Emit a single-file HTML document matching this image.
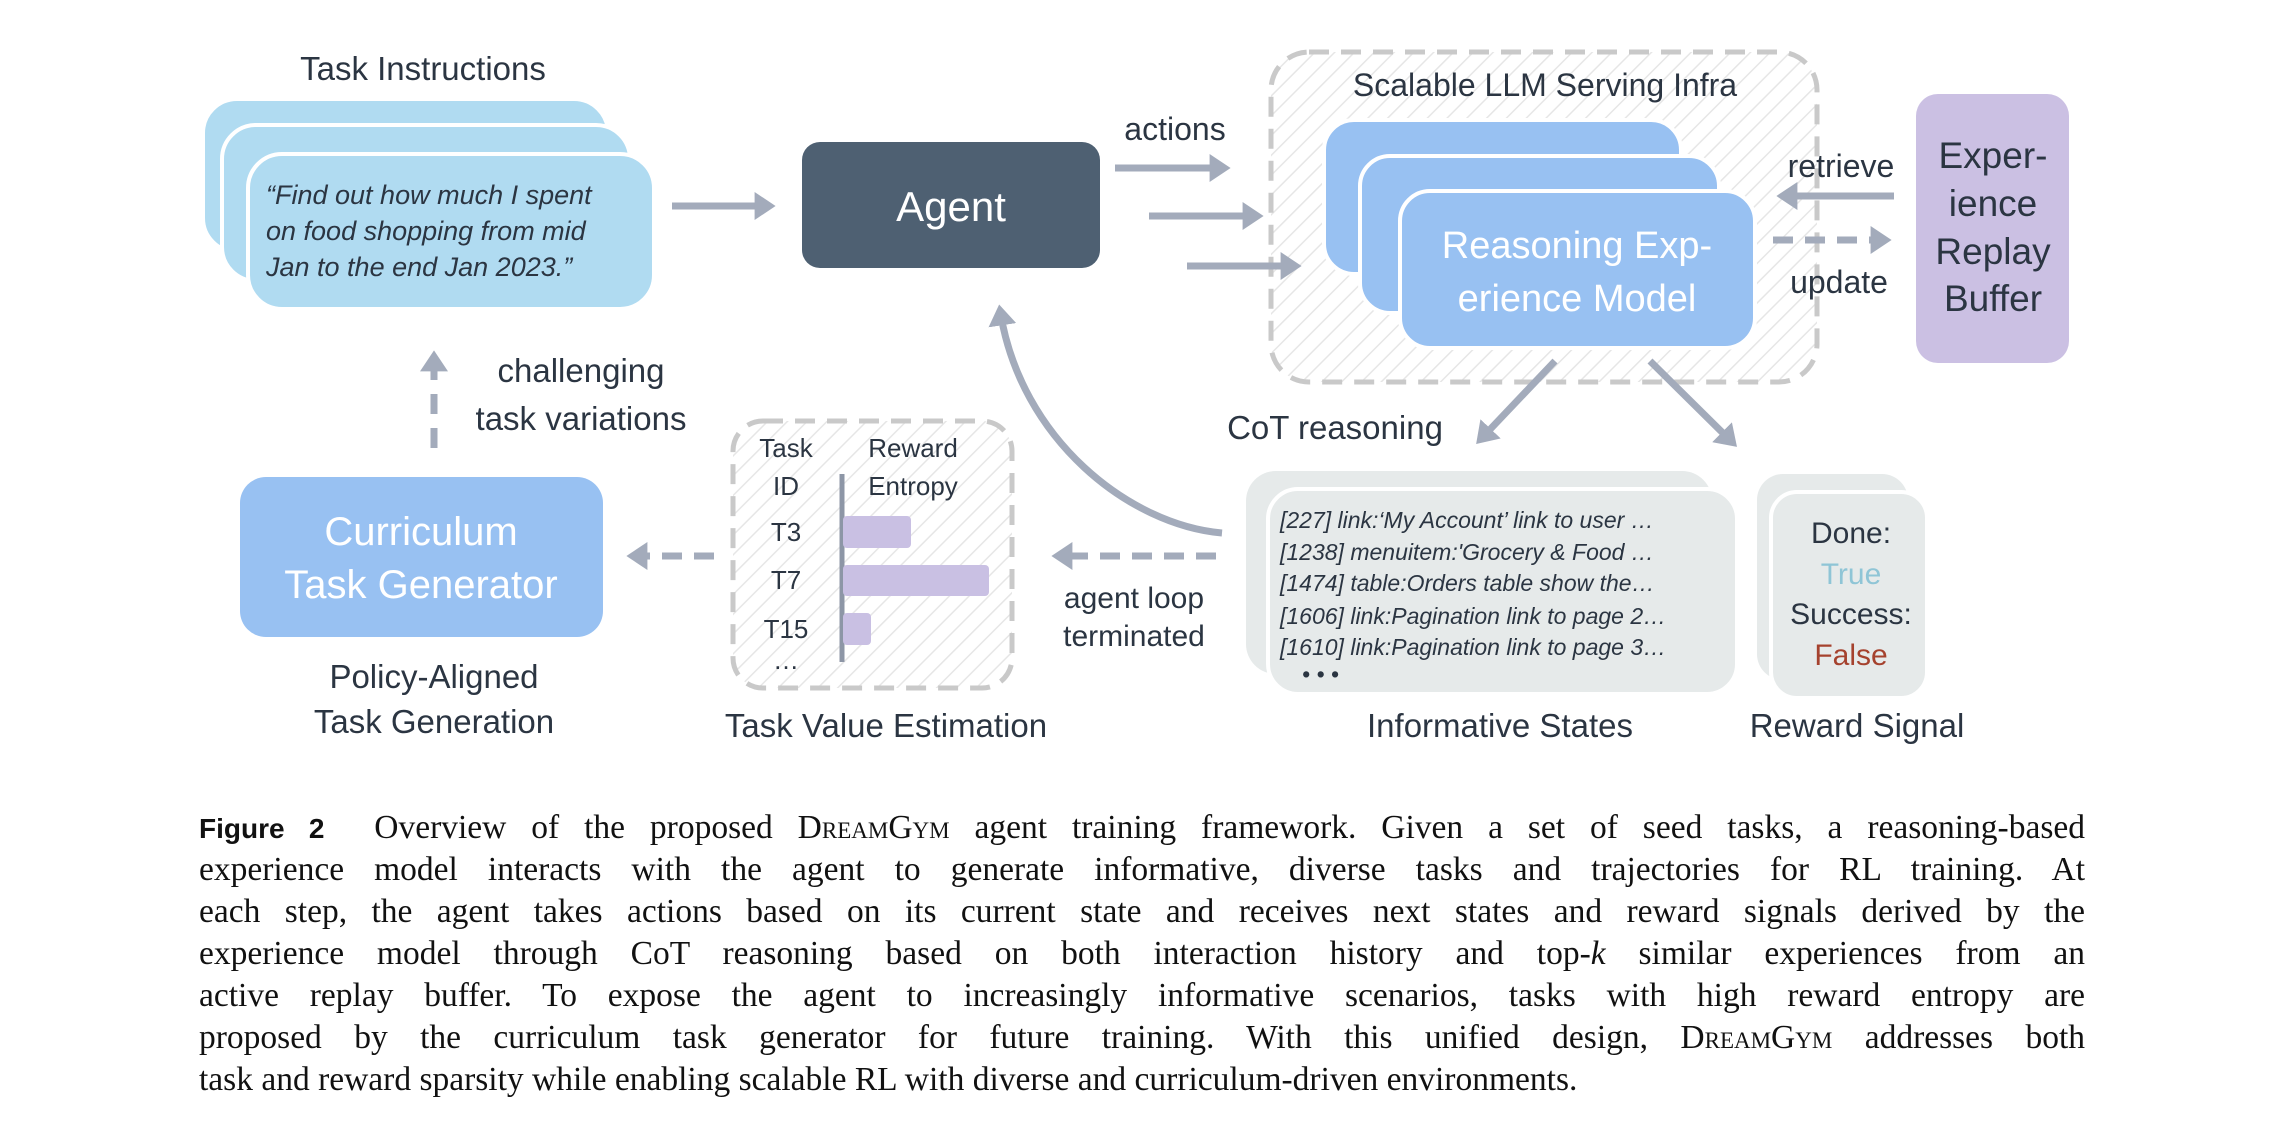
<!DOCTYPE html>
<html><head><meta charset="utf-8"><style>
html,body{margin:0;padding:0;background:#fff;}
body{width:2286px;height:1134px;position:relative;overflow:hidden;}
svg{position:absolute;left:0;top:0;}
.cap{position:absolute;left:199px;width:1886px;font-family:"Liberation Serif",serif;font-size:33.5px;color:#111;}
.cap div{height:42px;line-height:42px;text-align:justify;text-align-last:justify;white-space:nowrap;}
.cap div.last{text-align-last:left;}
.sc{font-variant:small-caps;}
</style></head><body>
<svg width="2286" height="1134" viewBox="0 0 2286 1134" font-family="Liberation Sans, sans-serif">
<defs>
<pattern id="h" width="14" height="14" patternUnits="userSpaceOnUse" patternTransform="rotate(45)">
<rect width="14" height="14" fill="#fff"/><line x1="0" y1="0" x2="0" y2="14" stroke="#e6e6e6" stroke-width="3"/></pattern>
<marker id="a" markerWidth="4" markerHeight="4" refX="2.2" refY="2" orient="auto" markerUnits="strokeWidth"><path d="M0,0 L3,2 L0,4 Z" fill="#a3abbb"/></marker>
</defs>
<g fill="#2b3542" font-size="33">
<text x="423" y="80" text-anchor="middle">Task Instructions</text>
</g>
<rect x="203" y="99" width="405" height="153" rx="34" fill="#b0dbf1" stroke="#fff" stroke-width="4"/>
<rect x="222" y="125" width="408" height="156" rx="34" fill="#b0dbf1" stroke="#fff" stroke-width="4"/>
<rect x="248" y="154" width="406" height="155" rx="34" fill="#b0dbf1" stroke="#fff" stroke-width="4"/>
<g fill="#2b3542" font-size="27" font-style="italic">
<text x="266" y="204">“Find out how much I spent</text>
<text x="266" y="240">on food shopping from mid</text>
<text x="266" y="276">Jan to the end Jan 2023.”</text>
</g>
<line x1="672" y1="206" x2="770" y2="206" stroke="#a3abbb" stroke-width="7" marker-end="url(#a)"/>
<rect x="802" y="142" width="298" height="126" rx="18" fill="#4e6072"/>
<text x="951" y="221" text-anchor="middle" fill="#fff" font-size="42">Agent</text>
<text x="1175" y="140" text-anchor="middle" fill="#2b3542" font-size="32">actions</text>
<rect x="1271" y="52" width="546" height="330" rx="38" fill="url(#h)" stroke="#c9c9c9" stroke-width="5" stroke-dasharray="20 12"/>
<text x="1545" y="96" text-anchor="middle" fill="#2b3542" font-size="32">Scalable LLM Serving Infra</text>
<rect x="1324" y="120" width="357" height="154" rx="30" fill="#98c1f2" stroke="#fff" stroke-width="4"/>
<rect x="1360" y="156" width="359" height="157" rx="30" fill="#98c1f2" stroke="#fff" stroke-width="4"/>
<rect x="1400" y="191" width="355" height="157" rx="30" fill="#98c1f2" stroke="#fff" stroke-width="4"/>
<g fill="#fff" font-size="38" text-anchor="middle">
<text x="1577" y="258">Reasoning Exp-</text>
<text x="1577" y="311">erience Model</text>
</g>
<line x1="1115" y1="168" x2="1225" y2="168" stroke="#a3abbb" stroke-width="7" marker-end="url(#a)"/>
<line x1="1149" y1="216" x2="1258" y2="216" stroke="#a3abbb" stroke-width="7" marker-end="url(#a)"/>
<line x1="1187" y1="266" x2="1296" y2="266" stroke="#a3abbb" stroke-width="7" marker-end="url(#a)"/>
<line x1="1894" y1="196" x2="1782" y2="196" stroke="#a3abbb" stroke-width="7" marker-end="url(#a)"/>
<text x="1841" y="177" text-anchor="middle" fill="#2b3542" font-size="32">retrieve</text>
<line x1="1773" y1="240" x2="1886" y2="240" stroke="#a3abbb" stroke-width="7" stroke-dasharray="20 12" marker-end="url(#a)"/>
<text x="1839" y="293" text-anchor="middle" fill="#2b3542" font-size="32">update</text>
<rect x="1916" y="94" width="153" height="269" rx="22" fill="#cbc0e3"/>
<g fill="#2b3542" font-size="37" text-anchor="middle">
<text x="1993" y="168">Exper-</text>
<text x="1993" y="216">ience</text>
<text x="1993" y="264">Replay</text>
<text x="1993" y="311">Buffer</text>
</g>
<line x1="1555" y1="361" x2="1480" y2="440" stroke="#a3abbb" stroke-width="7" marker-end="url(#a)"/>
<line x1="1650" y1="361" x2="1733" y2="443" stroke="#a3abbb" stroke-width="7" marker-end="url(#a)"/>
<text x="1335" y="439" text-anchor="middle" fill="#2b3542" font-size="33">CoT reasoning</text>
<rect x="1246" y="471" width="466" height="203" rx="30" fill="#e6eaea"/>
<rect x="1268" y="489" width="469" height="205" rx="30" fill="#e6eaea" stroke="#fff" stroke-width="4"/>
<g fill="#2b3542" font-size="23" font-style="italic">
<text x="1280" y="528">[227] link:‘My Account’ link to user …</text>
<text x="1280" y="560">[1238] menuitem:'Grocery &amp; Food …</text>
<text x="1280" y="591">[1474] table:Orders table show the…</text>
<text x="1280" y="624">[1606] link:Pagination link to page 2…</text>
<text x="1280" y="655">[1610] link:Pagination link to page 3…</text>
<text x="1302" y="682">• • •</text>
</g>
<rect x="1757" y="474" width="151" height="206" rx="26" fill="#e6eaea"/>
<rect x="1771" y="492" width="156" height="206" rx="26" fill="#e6eaea" stroke="#fff" stroke-width="4"/>
<g font-size="30" text-anchor="middle">
<text x="1851" y="543" fill="#2b3542">Done:</text>
<text x="1851" y="584" fill="#8fc5d6">True</text>
<text x="1851" y="624" fill="#2b3542">Success:</text>
<text x="1851" y="665" fill="#a5422e">False</text>
</g>
<g fill="#2b3542" font-size="33" text-anchor="middle">
<text x="1500" y="737">Informative States</text>
<text x="1857" y="737">Reward Signal</text>
<text x="886" y="737">Task Value Estimation</text>
<text x="434" y="688">Policy-Aligned</text>
<text x="434" y="733">Task Generation</text>
<text x="581" y="382">challenging</text>
<text x="581" y="430">task variations</text>
<text x="1134" y="608" font-size="30">agent loop</text>
<text x="1134" y="646" font-size="30">terminated</text>
</g>
<path d="M1222,533 C1130,525 1020,440 1000,310" fill="none" stroke="#a3abbb" stroke-width="7" marker-end="url(#a)"/>
<rect x="240" y="477" width="363" height="160" rx="26" fill="#98c1f2"/>
<g fill="#fff" font-size="40" text-anchor="middle">
<text x="421" y="545">Curriculum</text>
<text x="421" y="598">Task Generator</text>
</g>
<line x1="434" y1="448" x2="434" y2="356" stroke="#a3abbb" stroke-width="7" stroke-dasharray="20 14" marker-end="url(#a)"/>
<rect x="733" y="421" width="279" height="267" rx="30" fill="url(#h)" stroke="#c9c9c9" stroke-width="5" stroke-dasharray="20 12"/>
<g fill="#2b3542" font-size="26" text-anchor="middle">
<text x="786" y="457">Task</text>
<text x="786" y="495">ID</text>
<text x="913" y="457">Reward</text>
<text x="913" y="495">Entropy</text>
<text x="786" y="541">T3</text>
<text x="786" y="589">T7</text>
<text x="786" y="638">T15</text>
<text x="786" y="669">…</text>
</g>
<line x1="842" y1="474" x2="842" y2="662" stroke="#8d96a6" stroke-width="5"/>
<rect x="843" y="516" width="68" height="32" rx="4" fill="#c9c0e3"/>
<rect x="843" y="565" width="146" height="31" rx="4" fill="#c9c0e3"/>
<rect x="843" y="613" width="28" height="32" rx="4" fill="#c9c0e3"/>
<line x1="714" y1="556" x2="632" y2="556" stroke="#a3abbb" stroke-width="7" stroke-dasharray="20 12" marker-end="url(#a)"/>
<line x1="1216" y1="556" x2="1057" y2="556" stroke="#a3abbb" stroke-width="7" stroke-dasharray="20 12" marker-end="url(#a)"/>
</svg>
<div class="cap" style="top:807px;">
<div><b style="font-family:'Liberation Sans',sans-serif;font-size:28px;">Figure&#160;2</b>&#160; Overview of the proposed <span class="sc">DreamGym</span> agent training framework. Given a set of seed tasks, a reasoning-based</div>
<div>experience model interacts with the agent to generate informative, diverse tasks and trajectories for RL training. At</div>
<div>each step, the agent takes actions based on its current state and receives next states and reward signals derived by the</div>
<div>experience model through CoT reasoning based on both interaction history and top-<i>k</i> similar experiences from an</div>
<div>active replay buffer. To expose the agent to increasingly informative scenarios, tasks with high reward entropy are</div>
<div>proposed by the curriculum task generator for future training. With this unified design, <span class="sc">DreamGym</span> addresses both</div>
<div class="last">task and reward sparsity while enabling scalable RL with diverse and curriculum-driven environments.</div>
</div>
</body></html>
